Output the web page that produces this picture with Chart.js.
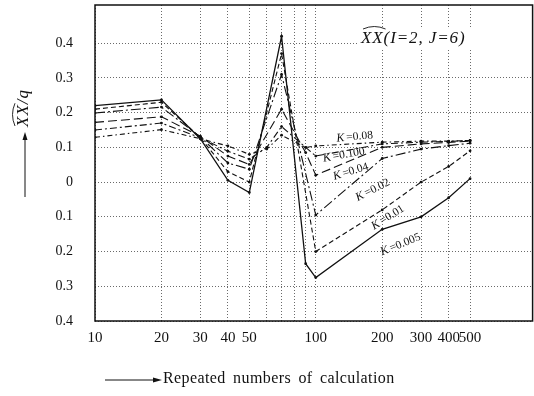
<!DOCTYPE html>
<html>
<head>
<meta charset="UTF-8">
<title>XX(I=2, J=6)</title>
<script src="https://cdn.jsdelivr.net/npm/chart.js@4/dist/chart.umd.min.js"></script>
<style>
  html, body { margin: 0; padding: 0; background: #fff; }
  #wrap { width: 534px; height: 396px; }
</style>
</head>
<body>
<div id="wrap"><canvas id="chart" width="534" height="396"></canvas></div>
<script>
// repeated numbers of calculation (x positions of the computed points)
var runs = [10, 20, 30, 40, 50, 60, 70, 80, 90, 100, 200, 300, 400, 500];

// XX/q for each K, null where no point is plotted
var k0005 = [0.220, 0.237, 0.125, 0.005, -0.030, null, 0.420, null, -0.235, -0.275, -0.136, -0.100, -0.045, 0.010];
var k001  = [0.210, 0.230, 0.128, 0.030, 0.000, null, 0.370, null, null, -0.200, -0.080, 0.000, 0.045, 0.090];
var k002  = [0.199, 0.216, 0.130, 0.055, 0.037, null, 0.310, null, null, -0.095, 0.068, 0.095, 0.105, 0.112];
var k004  = [0.172, 0.188, 0.132, 0.075, 0.051, null, 0.210, null, 0.085, 0.020, 0.100, 0.110, 0.114, 0.118];
var k0100 = [0.150, 0.170, 0.128, 0.089, 0.066, 0.100, 0.160, null, 0.100, 0.075, 0.110, 0.115, 0.117, 0.120];
var k008  = [0.129, 0.151, 0.125, 0.104, 0.080, 0.095, 0.135, null, 0.100, 0.104, 0.115, 0.118, 0.118, 0.120];

var gridX = [10, 20, 30, 40, 50, 60, 70, 80, 90, 100, 200, 300, 400, 500];
var labelX = [10, 20, 30, 40, 50, 100, 200, 300, 400, 500];
var ticksY = [-0.4, -0.3, -0.2, -0.1, 0, 0.1, 0.2, 0.3, 0.4];

// curve labels: text, x, y, angle (deg)
var curveLabels = [
  ['0.08', 150, 0.130, -5],
  ['0.100', 134, 0.078, -10],
  ['0.04', 144, 0.030, -17],
  ['0.02', 181, -0.023, -27],
  ['0.01', 212, -0.102, -32],
  ['0.005', 242, -0.180, -22]
];

function pts(arr) {
  var out = [];
  for (var i = 0; i < runs.length; i++) {
    if (arr[i] !== null) out.push({x: runs[i], y: arr[i]});
  }
  return out;
}

function ds(label, arr, dash, w) {
  return {
    label: label,
    data: pts(arr),
    borderColor: '#111',
    backgroundColor: '#111',
    borderWidth: w,
    borderDash: dash,
    pointRadius: 1.4,
    pointHoverRadius: 1.4,
    pointBorderWidth: 0,
    tension: 0
  };
}

var serif = '"Liberation Serif", "DejaVu Serif", serif';

var decor = {
  id: 'decor',
  beforeDraw: function(chart) {
    var c = chart.ctx;
    c.save();
    c.fillStyle = '#fff';
    c.fillRect(0, 0, chart.width, chart.height);
    c.restore();
  },
  beforeDatasetsDraw: function(chart) {
    // white patch behind the title
    var c = chart.ctx, a = chart.chartArea;
    c.save();
    c.fillStyle = '#fff';
    c.fillRect(357, a.top + 24, a.right - 358, 21);
    c.restore();
  },
  afterDraw: function(chart) {
    var c = chart.ctx, a = chart.chartArea;
    var xs = chart.scales.x, ys = chart.scales.y;
    c.save();
    // frame
    c.strokeStyle = '#111';
    c.lineWidth = 1.5;
    c.strokeRect(a.left, a.top, a.right - a.left, a.bottom - a.top);

    // title
    c.fillStyle = '#111';
    c.font = 'italic 17px ' + serif;
    c.letterSpacing = '0.9px';
    c.textBaseline = 'middle';
    c.textAlign = 'left';
    c.fillText('XX(I=2, J=6)', 361, a.top + 34);
    var xxw = c.measureText('XX').width;
    c.lineWidth = 0.9;
    c.beginPath();
    c.moveTo(363, a.top + 24);
    c.quadraticCurveTo(363 + xxw / 2, a.top + 19, 363 + xxw, a.top + 24);
    c.stroke();
    c.letterSpacing = '0px';

    // curve labels
    curveLabels.forEach(function(l) {
      var px = xs.getPixelForValue(l[1]), py = ys.getPixelForValue(l[2]);
      c.save();
      c.translate(px, py);
      c.rotate(l[3] * Math.PI / 180);
      c.textAlign = 'left';
      c.font = 'italic 12px ' + serif;
      var kw = c.measureText('K').width;
      var rest = '=' + l[0];
      c.font = '11.5px ' + serif;
      var rw = c.measureText(rest).width;
      var x0 = -(kw + rw + 2) / 2;
      c.font = 'italic 12px ' + serif;
      c.fillText('K', x0, 0);
      c.font = '11.5px ' + serif;
      c.fillText(rest, x0 + kw + 2, 0);
      c.restore();
    });

    // y axis title (rotated)
    c.save();
    c.translate(24, 140);
    c.rotate(-Math.PI / 2);
    c.font = 'italic 17px ' + serif;
    c.letterSpacing = '1px';
    c.textAlign = 'left';
    c.textBaseline = 'middle';
    c.fillText('XX/q', 13, 0);
    var yw = c.measureText('XX').width;
    c.letterSpacing = '0px';
    c.lineWidth = 0.9;
    c.beginPath();
    c.moveTo(14, -9);
    c.quadraticCurveTo(14 + yw / 2, -14, 14 + yw, -9);
    c.stroke();
    // arrow
    c.lineWidth = 1;
    c.beginPath();
    c.moveTo(-57, 1);
    c.lineTo(5, 1);
    c.stroke();
    c.beginPath();
    c.moveTo(8, 1);
    c.lineTo(0, -1.5);
    c.lineTo(0, 3.5);
    c.closePath();
    c.fill();
    c.restore();

    // x axis title with arrow
    c.lineWidth = 1;
    c.beginPath();
    c.moveTo(105, 380);
    c.lineTo(158, 380);
    c.stroke();
    c.beginPath();
    c.moveTo(162, 380);
    c.lineTo(153, 377.5);
    c.lineTo(153, 382.5);
    c.closePath();
    c.fill();
    c.font = '16px ' + serif;
    c.letterSpacing = '0.4px';
    c.wordSpacing = '3px';
    c.textAlign = 'left';
    c.textBaseline = 'middle';
    c.fillText('Repeated numbers of calculation', 163, 379);
    c.restore();
  }
};

var config = {
  type: 'line',
  data: {
    datasets: [
      ds('K=0.005', k0005, [], 1.3),
      ds('K=0.01', k001, [5, 3], 1.1),
      ds('K=0.02', k002, [10, 3, 2, 3], 1.1),
      ds('K=0.04', k004, [9, 4], 1.1),
      ds('K=0.100', k0100, [7, 3, 2, 3], 1.1),
      ds('K=0.08', k008, [5, 3, 1.5, 3], 1.1)
    ]
  },
  options: {
    responsive: false,
    animation: false,
    events: [],
    layout: { padding: { top: 5, right: 1, left: 0, bottom: 0 } },
    plugins: {
      legend: { display: false },
      tooltip: { enabled: false }
    },
    scales: {
      x: {
        type: 'logarithmic',
        min: 10,
        max: 960,
        afterBuildTicks: function(s) {
          s.ticks = gridX.map(function(v) { return {value: v}; });
        },
        afterFit: function(s) {
          s.height = 75;
          s.paddingLeft = 0;
          s.paddingRight = 0;
        },
        ticks: {
          autoSkip: false,
          maxRotation: 0,
          padding: 8,
          color: '#111',
          font: { family: serif, size: 15 },
          callback: function(v) { return labelX.indexOf(v) >= 0 ? String(v) : ''; }
        },
        grid: { color: '#444', lineWidth: 0.8, drawTicks: false },
        border: { display: false, dash: [1, 2] }
      },
      y: {
        type: 'linear',
        min: -0.4,
        max: 0.51,
        afterBuildTicks: function(s) {
          s.ticks = ticksY.map(function(v) { return {value: v}; });
        },
        afterFit: function(s) {
          s.width = 95;
          s.paddingTop = 0;
          s.paddingBottom = 0;
        },
        ticks: {
          padding: 22,
          color: '#111',
          font: { family: serif, size: 14 },
          callback: function(v) {
            var a = Math.abs(v);
            return a < 1e-9 ? '0' : a.toFixed(1);
          }
        },
        grid: { color: '#444', lineWidth: 0.8, drawTicks: false },
        border: { display: false, dash: [1, 2] }
      }
    }
  },
  plugins: [decor]
};

window.onload = function() {
  var ctx = document.getElementById('chart').getContext('2d');
  window.myChart = new Chart(ctx, config);
};
</script>
</body>
</html>
